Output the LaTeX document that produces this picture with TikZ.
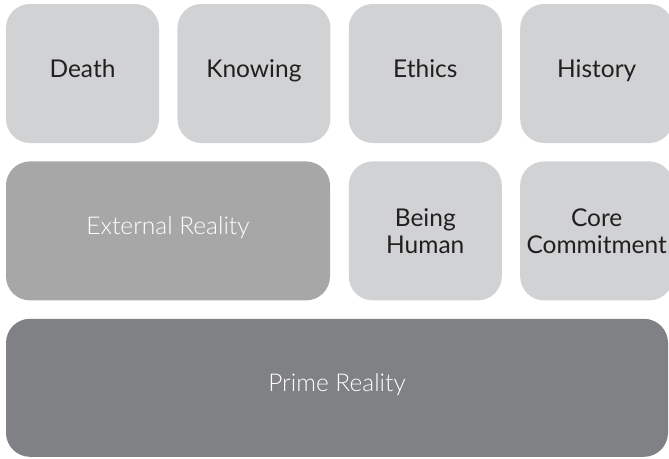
\documentclass[tikz,border=0pt]{standalone}
\usepackage{fontspec}
\setmainfont{Lato}
\newfontfamily\lightfont{Lato Light}
\usetikzlibrary{positioning}
\definecolor{lightbox}{HTML}{D1D2D4}
\definecolor{midbox}{HTML}{A7A7A7}
\definecolor{darkbox}{HTML}{808185}
\definecolor{inktext}{HTML}{231F20}
\tikzset{
  tile/.style={
    rectangle,
    rounded corners=24pt,
    fill=lightbox,
    text=inktext,
    minimum width=153pt,
    minimum height=139pt,
    inner sep=0pt,
    align=center,
    font=\fontsize{24.5}{27}\selectfont},
  oneline/.style={text height=17pt, text depth=10pt},
  widetile/.style={
    tile, oneline,
    fill=midbox,
    text=white,
    font=\lightfont\fontsize{24.5}{27}\selectfont,
    minimum width=324pt},
  basetile/.style={
    widetile,
    fill=darkbox,
    minimum width=662pt,
    minimum height=138pt},
}
\begin{document}
\begin{tikzpicture}[x=1pt, y=1pt, node distance=18pt]
  \useasboundingbox (0,0) rectangle (669,-458);
  % top row
  \node[tile, oneline] (death) at (82.5,-73.5) {Death};
  \node[tile, oneline, right=of death] (knowing) {Knowing};
  \node[tile, oneline, right=of knowing] (ethics) {Ethics};
  \node[tile, oneline, right=of ethics] (history) {History};
  % middle row
  \node[widetile, below=of death.south west, anchor=north west] (external) {External Reality};
  \node[tile, below=of ethics] (being) {Being\\Human};
  \node[tile, below=of history] (core) {Core\\Commitment};
  % bottom row
  \node[basetile, below=of external.south west, anchor=north west] (prime) {Prime Reality};
\end{tikzpicture}
\end{document}
